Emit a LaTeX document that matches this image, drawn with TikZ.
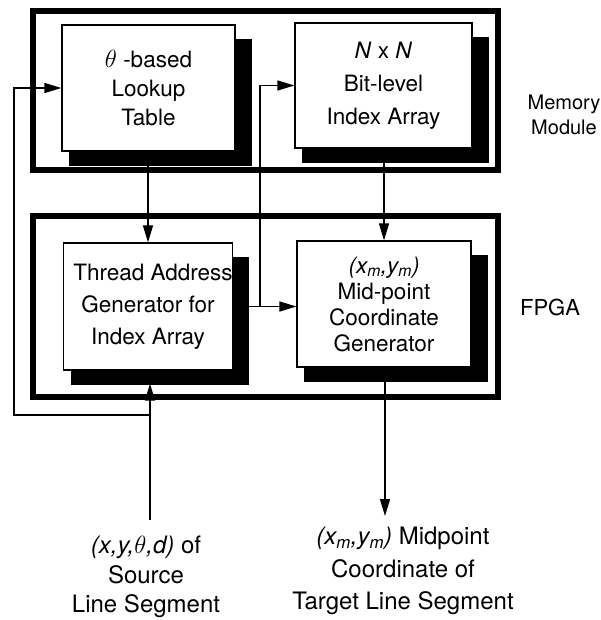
\documentclass[tikz,border=0pt]{standalone}
\usepackage{fontspec}
\setmainfont{TeX Gyre Heros}
\usetikzlibrary{arrows.meta,calc}
\pgfdeclarelayer{bg}
\pgfsetlayers{bg,main}
\newcommand{\shadowof}[1]{%
  \begin{pgfonlayer}{bg}
    \fill ([shift={(8,15)}]#1.north west) rectangle ([shift={(16,14)}]#1.south east);
  \end{pgfonlayer}}
\begin{document}
\begin{tikzpicture}[x=1pt,y=-1pt,
  font=\fontsize{22.5}{29}\selectfont,
  unit/.style={draw, line width=1.2pt, fill=white, align=center, inner sep=0pt},
  frame/.style={draw, line width=6pt, inner sep=0pt},
  lbl/.style={align=center, inner sep=0pt},
  arr/.style={line width=1.4pt, -{Triangle[length=17pt,width=10pt]}},
  wire/.style={line width=1.4pt}]
\useasboundingbox (0,0) rectangle (600,620);

% enclosing frames
\node[frame, minimum width=465pt, minimum height=159pt] (mem) at (265.5,90.5) {};
\node[frame, minimum width=465pt, minimum height=181pt] (fpga) at (265.5,306.5) {};

% functional units
\node[unit, minimum width=173pt, minimum height=126pt] (lut) at (148.5,88)
  {{\fontsize{26}{29}\selectfont$\theta$} -based\\Lookup\\Table};
\node[unit, minimum width=177pt, minimum height=125pt,
  font=\fontsize{22.5}{33}\selectfont] (nxn) at (383.5,85.5)
  {\textit{N} x \textit{N}\\Bit-level\\Index Array};
\node[unit, minimum width=166pt, minimum height=127pt,
  font=\fontsize{22.5}{32}\selectfont] (thread) at (148,306.5)
  {\hspace*{10pt}Thread Address\\Generator for\\Index Array};
\node[unit, minimum width=174pt, minimum height=126pt,
  font=\fontsize{22.5}{26}\selectfont] (mid) at (384,304)
  {\textit{(x\textsubscript{m},y\textsubscript{m})}\\Mid-point\\Coordinate\\Generator};
\shadowof{lut}
\shadowof{nxn}
\shadowof{thread}
\shadowof{mid}

% side labels
\node[lbl, font=\fontsize{20}{25}\selectfont] (memlbl) at (564,115) {Memory\\Module};
\node[lbl, font=\fontsize{22}{25}\selectfont] (fpgalbl) at (550,307) {FPGA};

% inputs and outputs
\node[lbl, font=\fontsize{24}{29.5}\selectfont] (src) at (146,577)
  {\textit{(x,y,$\theta$,d)} of\\Source\\Line Segment};
\node[lbl, font=\fontsize{24}{32.5}\selectfont] (tgt) at (403,571)
  {\textit{(x\textsubscript{m},y\textsubscript{m})} Midpoint\\Coordinate of\\Target Line Segment};

\coordinate (thrbot) at ($(thread.south)+(2,13)$);
\coordinate (midbot) at ($(mid.south)+(1,13)$);
\coordinate (inend) at (150,520);
\coordinate (fb) at (150,415);
\coordinate (fbl) at (14,415);
\coordinate (br) at (260,306);
\coordinate (outend) at (385,516);

% connectors
\draw[arr] (thread.north |- lut.south) -- (thread.north);
\draw[arr] (mid.north |- nxn.south) -- (mid.north);
\draw[arr] (thread.east) -- (thread.east -| mid.west);
\draw[arr] (br) |- (nxn.west);
\draw[arr] (inend) -- (thrbot);
\draw[arr] (fb) -- (fbl) |- (lut.west);
\draw[arr] (midbot) -- (outend);
\end{tikzpicture}
\end{document}
